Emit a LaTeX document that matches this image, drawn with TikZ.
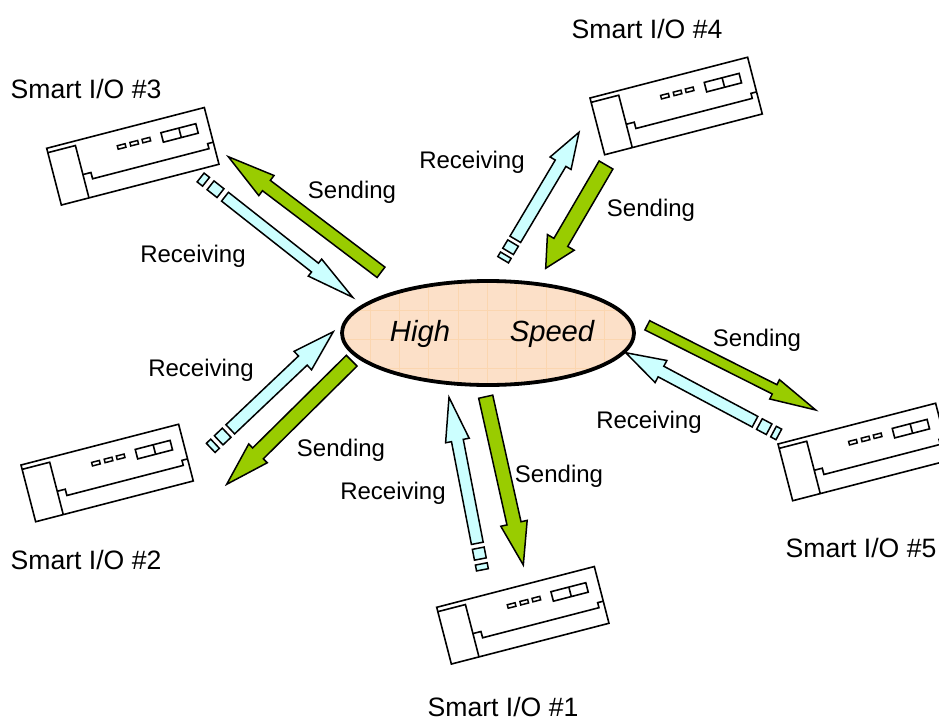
\documentclass[tikz,border=0pt]{standalone}
\usepackage{fontspec}
\setmainfont{Liberation Sans}
\usetikzlibrary{calc,shapes.geometric}
\tikzset{
  lbl/.style={anchor=base,inner sep=0pt,font=\fontsize{24}{28}\selectfont},
  iolbl/.style={anchor=base,inner sep=0pt,font=\fontsize{26.6}{30}\selectfont},
  hs/.style={anchor=base,inner sep=0pt,font=\fontsize{29.2}{32}\selectfont\itshape},
  sendarrow/.style={draw=black,line width=1.5pt,fill=sendgreen,line join=miter},
  recvarrow/.style={draw=black,line width=1.5pt,fill=recvcyan,line join=miter},
  devline/.style={draw=black,line width=1.6pt,line join=miter},
}
\definecolor{sendgreen}{HTML}{99CC00}
\definecolor{recvcyan}{HTML}{CCFFFF}
\definecolor{hsfill}{HTML}{FCE0C8}
\definecolor{hsgrid}{HTML}{FBD6B0}
\newcommand{\smartdevice}[2]{%
  \begin{scope}[shift={(#1,#2)},rotate=14.5]
    \draw[devline,fill=white] (0,0) -- (162.8,0) -- (162.8,58.6) -- (0,58.6) -- cycle;
    \draw[devline] (0,4.5) -- (28.5,4.5) -- (28.5,58.6);
    \draw[devline] (28.5,34.5) -- (36.8,34.5) -- (36.8,41) -- (157,41) -- (157,35.8) -- (162.8,35.8);
    \draw[devline,line width=1.5pt] (69,15.2) rectangle (77,18.8);
    \draw[devline,line width=1.5pt] (82,15.2) rectangle (90,18.8);
    \draw[devline,line width=1.5pt] (94.5,15.2) rectangle (102.5,18.8);
    \draw[devline] (114.5,13.5) rectangle (150.5,23.3);
    \draw[devline] (133,13.5) -- (133,23.3);
  \end{scope}}
% tail, tip, head length, head half width, shaft half width
\newcommand{\sendblock}[5]{%
  \coordinate (H) at ($(#2)!#3pt!(#1)$);
  \draw[sendarrow] ($(#1)!#5pt!90:(#2)$) -- ($(H)!#5pt!90:(#2)$) -- ($(H)!#4pt!90:(#2)$) -- (#2)
    -- ($(H)!#4pt!-90:(#2)$) -- ($(H)!#5pt!-90:(#2)$) -- ($(#1)!#5pt!-90:(#2)$) -- cycle;}
% as above, plus the stretch of the two detached pieces along the axis
\newcommand{\recvblock}[6]{%
  \coordinate (H) at ($(#2)!#3pt!(#1)$);
  \draw[recvarrow] ($(#1)!#5pt!90:(#2)$) -- ($(H)!#5pt!90:(#2)$) -- ($(H)!#4pt!90:(#2)$) -- (#2)
    -- ($(H)!#4pt!-90:(#2)$) -- ($(H)!#5pt!-90:(#2)$) -- ($(#1)!#5pt!-90:(#2)$) -- cycle;
  \coordinate (A) at ($(#1)!-#6*5pt!(#2)$);
  \coordinate (B) at ($(#1)!-#6*16pt!(#2)$);
  \coordinate (C) at ($(#1)!-#6*21pt!(#2)$);
  \coordinate (D) at ($(#1)!-#6*27pt!(#2)$);
  \draw[recvarrow] ($(A)!#5pt!90:(B)$) -- ($(A)!#5pt!-90:(B)$) -- ($(B)!#5pt!90:(A)$) -- ($(B)!#5pt!-90:(A)$) -- cycle;
  \draw[recvarrow] ($(C)!#5pt!90:(D)$) -- ($(C)!#5pt!-90:(D)$) -- ($(D)!#5pt!90:(C)$) -- ($(D)!#5pt!-90:(C)$) -- cycle;}
\begin{document}
\begin{tikzpicture}[x=1pt,y=-1pt]
  \useasboundingbox (0,0) rectangle (939,720);
  % high speed ring
  \fill[hsfill] (488,333) ellipse [x radius=146,y radius=52];
  \begin{scope}
    \clip (488,333) ellipse [x radius=146,y radius=52];
    \foreach \gx in {370,399.3,428.5,458,487.3,516.7,546,575,604}
      \draw[hsgrid,line width=0.8pt] (\gx,275) -- (\gx,390);
    \foreach \gy in {310,339,368.5}
      \draw[hsgrid,line width=0.8pt] (335,\gy) -- (640,\gy);
  \end{scope}
  \node[draw=black,line width=3.8pt,ellipse,minimum width=292pt,minimum height=104pt,inner sep=0pt,outer sep=0pt] (ring) at (488,333) {};
  \node[hs] (high) at (420,341.7) {High};
  \node[hs] (speed) at (552,341.7) {Speed};
  % devices
  \smartdevice{436.7}{607.3}
  \smartdevice{21}{465}
  \smartdevice{46.7}{148.3}
  \smartdevice{590}{98}
  \smartdevice{778}{444}
  % arrow ends
  \coordinate (s1a) at (485.7,396.7); \coordinate (s1b) at (523.3,565);
  \coordinate (s2a) at (351.7,360.7); \coordinate (s2b) at (226.7,484.3);
  \coordinate (s3a) at (381,272.3);   \coordinate (s3b) at (228.3,156.7);
  \coordinate (s4a) at (606,165);     \coordinate (s4b) at (545.7,268.3);
  \coordinate (s5a) at (647.3,325.3); \coordinate (s5b) at (815.7,410);
  \coordinate (r1a) at (477.3,543.3); \coordinate (r1b) at (449,397.3);
  \coordinate (r2a) at (230.3,429.3); \coordinate (r2b) at (333.3,331.7);
  \coordinate (r3a) at (225,196.7);   \coordinate (r3b) at (352.7,297.3);
  \coordinate (r4a) at (515.3,239.3); \coordinate (r4b) at (579,132.3);
  \coordinate (r5a) at (755,421.7);   \coordinate (r5b) at (625.7,352.7);
  \sendblock{s1a}{s1b}{42.7}{13.5}{7.2}
  \sendblock{s2a}{s2b}{44}{13.2}{7.6}
  \sendblock{s3a}{s3b}{47.8}{12.6}{6.5}
  \sendblock{s4a}{s4b}{30}{15.5}{8}
  \sendblock{s5a}{s5b}{46}{10.8}{5.2}
  \recvblock{r1a}{r1b}{44}{12}{6}{1}
  \recvblock{r2a}{r2b}{42}{12.7}{6.3}{1}
  \recvblock{r3a}{r3b}{48}{10.8}{5.6}{1.15}
  \recvblock{r4a}{r4b}{36}{12.2}{6.2}{0.88}
  \recvblock{r5a}{r5b}{40}{12.5}{6}{1}
  % labels
  \node[iolbl] (io3) at (86,98) {Smart I/O \#3};
  \node[iolbl] (io4) at (647,38) {Smart I/O \#4};
  \node[iolbl] (io2) at (86,569) {Smart I/O \#2};
  \node[iolbl] (io1) at (503,716) {Smart I/O \#1};
  \node[iolbl] (io5) at (861,557) {Smart I/O \#5};
  \node[lbl] (ls3) at (352,198) {Sending};
  \node[lbl] (ls4) at (651,216) {Sending};
  \node[lbl] (ls5) at (757,346) {Sending};
  \node[lbl] (ls2) at (341,456) {Sending};
  \node[lbl] (ls1) at (559,482) {Sending};
  \node[lbl] (lr3) at (193,262) {Receiving};
  \node[lbl] (lr4) at (472,168) {Receiving};
  \node[lbl] (lr2) at (201,376) {Receiving};
  \node[lbl] (lr5) at (649,428) {Receiving};
  \node[lbl] (lr1) at (393,499) {Receiving};
\end{tikzpicture}
\end{document}
